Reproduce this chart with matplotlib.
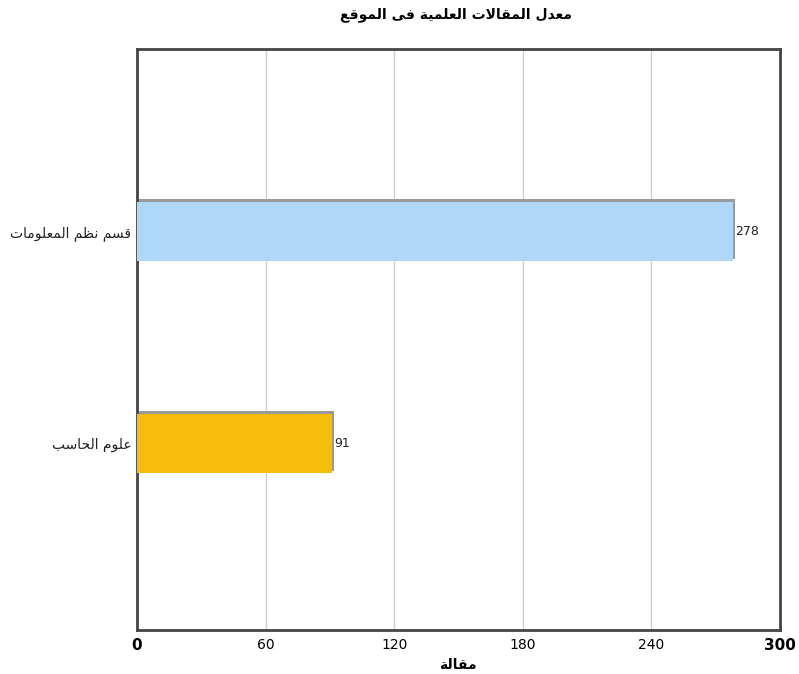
import matplotlib
matplotlib.use("Agg")
import matplotlib.pyplot as plt
import matplotlib.patheffects as pe

# --- data ---
categories = ["علوم الحاسب", "قسم نظم المعلومات"]
values = [91, 278]
colors = ["#f6bd0f", "#afd8f8"]
title = "معدل المقالات العلمية فى الموقع"
xlabel = "مقالة"
xticks = [0, 60, 120, 180, 240, 300]

# --- minimal arabic shaping (matplotlib has no bidi / joining) ---
# letter: (isolated, final, initial, medial); letters with only 2 forms don't join left
FORMS = {
    "ا": ("\uFE8D", "\uFE8E"), "ب": ("\uFE8F", "\uFE90", "\uFE91", "\uFE92"),
    "ة": ("\uFE93", "\uFE94"), "ت": ("\uFE95", "\uFE96", "\uFE97", "\uFE98"),
    "ح": ("\uFEA1", "\uFEA2", "\uFEA3", "\uFEA4"), "د": ("\uFEA9", "\uFEAA"),
    "س": ("\uFEB1", "\uFEB2", "\uFEB3", "\uFEB4"), "ظ": ("\uFEC5", "\uFEC6", "\uFEC7", "\uFEC8"),
    "ع": ("\uFEC9", "\uFECA", "\uFECB", "\uFECC"), "ف": ("\uFED1", "\uFED2", "\uFED3", "\uFED4"),
    "ق": ("\uFED5", "\uFED6", "\uFED7", "\uFED8"), "ل": ("\uFEDD", "\uFEDE", "\uFEDF", "\uFEE0"),
    "م": ("\uFEE1", "\uFEE2", "\uFEE3", "\uFEE4"), "ن": ("\uFEE5", "\uFEE6", "\uFEE7", "\uFEE8"),
    "و": ("\uFEED", "\uFEEE"), "ى": ("\uFEEF", "\uFEF0"),
    "ي": ("\uFEF1", "\uFEF2", "\uFEF3", "\uFEF4"),
}


def shape_word(w):
    # lam-alef ligature
    chars = []
    i = 0
    while i < len(w):
        if w[i] == "ل" and i + 1 < len(w) and w[i + 1] == "ا":
            chars.append("LA")
            i += 2
        else:
            chars.append(w[i])
            i += 1
    out = []
    for k, c in enumerate(chars):
        prev = chars[k - 1] if k > 0 else None
        joins_prev = prev is not None and prev != "LA" and len(FORMS[prev]) == 4
        if c == "LA":
            out.append("\uFEFC" if joins_prev else "\uFEFB")
            continue
        f = FORMS[c]
        nxt = k + 1 < len(chars)
        joins_next = len(f) == 4 and nxt
        if joins_prev and joins_next:
            out.append(f[3])
        elif joins_prev:
            out.append(f[1])
        elif joins_next:
            out.append(f[2])
        else:
            out.append(f[0])
    return "".join(out)[::-1]


def ar(text):
    return " ".join(shape_word(w) for w in text.split(" ")[::-1])


fig = plt.figure(figsize=(7.99, 6.74), dpi=100)
ax = fig.add_axes([0.1715, 0.0653, 0.8045, 0.862])

ypos = list(range(len(categories)))
bars = ax.barh(ypos, values, height=0.28, color=colors, zorder=3)
for b in bars:
    b.set_path_effects([pe.SimplePatchShadow(offset=(1.6, 1.6), shadow_rgbFace="#9a9a9a", alpha=1.0), pe.Normal()])

for y, v in zip(ypos, values):
    ax.text(v + 1, y, str(v), va="center", ha="left", fontsize=9, color="#222222")

ax.set_xlim(0, 300)
ax.set_ylim(-0.88, 1.86)
ax.set_xticks(xticks)
ax.set_xticklabels([str(t) for t in xticks], fontsize=10)
for i, lab in enumerate(ax.get_xticklabels()):
    if i in (0, len(xticks) - 1):
        lab.set_fontweight("bold")
        lab.set_fontsize(11)
ax.set_yticks(ypos)
ax.set_yticklabels([ar(c) for c in categories], fontsize=10, color="#222222")
ax.tick_params(length=0, pad=4)
ax.tick_params(axis="x", pad=6)

ax.grid(axis="x", color="#cccccc", linewidth=1, zorder=0)
for s in ax.spines.values():
    s.set_color("#444444")
    s.set_linewidth(2)

fig.text(0.571, 0.978, ar(title), ha="center", va="center", fontsize=10, fontweight="bold")
fig.text(0.573, 0.0134, ar(xlabel), ha="center", va="center", fontsize=10, fontweight="bold")

fig.savefig("out.png", dpi=100)
